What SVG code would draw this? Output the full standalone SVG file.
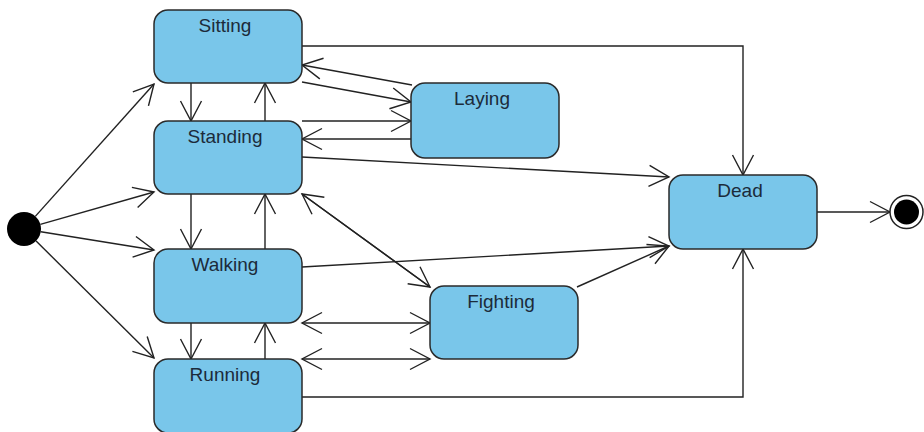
<svg xmlns="http://www.w3.org/2000/svg" width="924" height="432" viewBox="0 0 924 432">
  <defs>
    <!-- open V arrowhead used by every transition -->
    <marker id="arrow" markerUnits="userSpaceOnUse" markerWidth="24" markerHeight="24" viewBox="-22 -12 24 24" refX="0" refY="0" orient="auto-start-reverse">
      <path d="M-20,-10.5 L0,0 L-20,10.5" fill="none" stroke="#222" stroke-width="1.4"/>
    </marker>
  </defs>
  <style>
    .state rect { fill: #79c6ea; stroke: #2a2a2a; stroke-width: 1.5; }
    .state text { font-family: "Liberation Sans", Arial, sans-serif; font-size: 19px; fill: #1c2b3a; text-anchor: middle; }
    .edge { fill: none; stroke: #222; stroke-width: 1.4; marker-end: url(#arrow); }
    .both { marker-start: url(#arrow); }
  </style>

  <rect width="924" height="432" fill="#ffffff"/>

  <!-- transitions -->
  <g id="connectors">
    <!-- from the initial pseudostate -->
    <path class="edge" d="M35.3,216.4 L154,84"/>
    <path class="edge" d="M40.3,224.3 L154,192"/>
    <path class="edge" d="M40.8,231.7 L154,250"/>
    <path class="edge" d="M36.1,241 L154,358"/>

    <!-- vertical chain Sitting / Standing / Walking / Running -->
    <path class="edge" d="M191,83 V121"/>
    <path class="edge" d="M265,121 V83"/>
    <path class="edge" d="M191,194 V249"/>
    <path class="edge" d="M265,249 V194"/>
    <path class="edge" d="M191,323 V359"/>
    <path class="edge" d="M265,359 V323"/>

    <!-- Laying -->
    <path class="edge" d="M412,85 L302,65"/>
    <path class="edge" d="M302,82 L411,102"/>
    <path class="edge" d="M302,121 H411"/>
    <path class="edge" d="M411,139 H302"/>

    <!-- Fighting -->
    <path class="edge" d="M302,194 L430,287"/>
    <path class="edge" d="M430,287 L302,194"/>
    <path class="edge both" d="M302,323 H430"/>
    <path class="edge both" d="M302,359 H430"/>

    <!-- into Dead -->
    <path class="edge" d="M302,46 H743 V175"/>
    <path class="edge" d="M302,157 L669,177"/>
    <path class="edge" d="M302,267 L669,246"/>
    <path class="edge" d="M577,287 L669,246"/>
    <path class="edge" d="M302,397 H743 V249"/>

    <!-- Dead to final -->
    <path class="edge" d="M817,212 H890"/>
  </g>

  <!-- initial pseudostate -->
  <g id="initial">
    <circle cx="24" cy="229" r="17" fill="#000"/>
  </g>

  <g id="sitting" class="state">
    <rect x="154" y="10" width="148" height="73" rx="14"/>
    <text x="225" y="32">Sitting</text>
  </g>

  <g id="standing" class="state">
    <rect x="154" y="121" width="148" height="73" rx="14"/>
    <text x="225" y="143">Standing</text>
  </g>

  <g id="walking" class="state">
    <rect x="154" y="249" width="148" height="74" rx="14"/>
    <text x="225" y="271">Walking</text>
  </g>

  <g id="running" class="state">
    <rect x="154" y="359" width="148" height="74" rx="14"/>
    <text x="225" y="381">Running</text>
  </g>

  <g id="laying" class="state">
    <rect x="411" y="83" width="148" height="75" rx="14"/>
    <text x="482" y="105">Laying</text>
  </g>

  <g id="fighting" class="state">
    <rect x="430" y="286" width="148" height="73" rx="14"/>
    <text x="501" y="308">Fighting</text>
  </g>

  <g id="dead" class="state">
    <rect x="669" y="175" width="148" height="74" rx="14"/>
    <text x="740" y="197">Dead</text>
  </g>

  <!-- final state -->
  <g id="final">
    <circle cx="906.5" cy="212" r="16.5" fill="#fff" stroke="#222" stroke-width="1.5"/>
    <circle cx="906.5" cy="212" r="12.5" fill="#000"/>
  </g>
</svg>
